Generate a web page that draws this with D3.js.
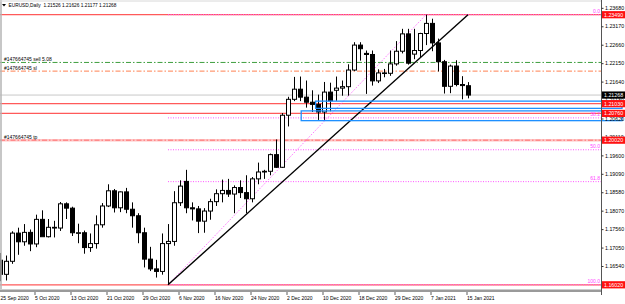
<!DOCTYPE html>
<html><head><meta charset="utf-8">
<script src="https://cdn.jsdelivr.net/npm/d3@7"></script>
<style>body{margin:0;background:#fff}svg{display:block}text{font-family:"Liberation Sans",Arial,sans-serif}</style>
</head><body><svg id="c" width="625" height="304"></svg>
<script>
const dates = ["2020-09-25","2020-09-28","2020-09-29","2020-09-30","2020-10-01","2020-10-02","2020-10-05","2020-10-06","2020-10-07","2020-10-08",
"2020-10-09","2020-10-12","2020-10-13","2020-10-14","2020-10-15","2020-10-16","2020-10-19","2020-10-20","2020-10-21","2020-10-22",
"2020-10-23","2020-10-26","2020-10-27","2020-10-28","2020-10-29","2020-10-30","2020-11-02","2020-11-03","2020-11-04","2020-11-05",
"2020-11-06","2020-11-09","2020-11-10","2020-11-11","2020-11-12","2020-11-13","2020-11-16","2020-11-17","2020-11-18","2020-11-19",
"2020-11-20","2020-11-23","2020-11-24","2020-11-25","2020-11-26","2020-11-27","2020-11-30","2020-12-01","2020-12-02","2020-12-03",
"2020-12-04","2020-12-07","2020-12-08","2020-12-09","2020-12-10","2020-12-11","2020-12-14","2020-12-15","2020-12-16","2020-12-17",
"2020-12-18","2020-12-21","2020-12-22","2020-12-23","2020-12-24","2020-12-28","2020-12-29","2020-12-30","2020-12-31","2021-01-04",
"2021-01-05","2021-01-06","2021-01-07","2021-01-08","2021-01-11","2021-01-12","2021-01-13","2021-01-14","2021-01-15"];
const open = [1.1670,1.1631,1.1667,1.1745,1.1721,1.1747,1.1715,1.1783,1.1735,1.1761,
1.1759,1.1826,1.1814,1.1746,1.1746,1.1705,1.1716,1.1768,1.1820,1.1862,
1.1815,1.1859,1.1811,1.1793,1.1746,1.1673,1.1646,1.1639,1.1716,1.1722,
1.1829,1.1888,1.1815,1.1812,1.1778,1.1806,1.1832,1.1854,1.1863,1.1853,
1.1871,1.1857,1.1840,1.1895,1.1914,1.1916,1.1962,1.1927,1.2071,1.2115,
1.2143,1.2121,1.2107,1.2101,1.2080,1.2135,1.2140,1.2146,1.2150,1.2196,
1.2265,1.2242,1.2239,1.2166,1.2188,1.2187,1.2213,1.2248,1.2296,1.2240,
1.2250,1.2297,1.2325,1.2271,1.2219,1.2151,1.2207,1.2156,1.21526];
const high = [1.1690,1.1683,1.1750,1.1760,1.1770,1.1755,1.1796,1.1808,1.1784,1.1779,
1.1831,1.1830,1.1818,1.1771,1.1752,1.1744,1.1794,1.1828,1.1880,1.1867,
1.1860,1.1870,1.1830,1.1800,1.1760,1.1707,1.1671,1.1744,1.1770,1.1861,
1.1891,1.1920,1.1830,1.1820,1.1814,1.1840,1.1866,1.1893,1.1895,1.1877,
1.1891,1.1905,1.1900,1.1940,1.1920,1.1965,1.2004,1.2077,1.2122,1.2177,
1.2178,1.2167,1.2140,1.2128,1.2163,1.2161,1.2178,1.2167,1.2212,1.2273,
1.2273,1.2250,1.2250,1.2198,1.2199,1.2250,1.2276,1.2310,1.2310,1.2310,
1.2299,1.2349,1.2338,1.2283,1.2224,1.2211,1.2223,1.2179,1.21626];
const low = [1.1612,1.1614,1.1660,1.1685,1.1710,1.1695,1.1706,1.1737,1.1733,1.1733,
1.1751,1.1784,1.1737,1.1717,1.1688,1.1693,1.1702,1.1760,1.1817,1.1802,
1.1803,1.1800,1.1760,1.1717,1.1650,1.1640,1.1622,1.1630,1.1602,1.1710,
1.1820,1.1800,1.1780,1.1745,1.1746,1.1782,1.1820,1.1830,1.1845,1.1800,
1.1842,1.1800,1.1830,1.1880,1.1895,1.1905,1.1925,1.1925,1.2040,1.2110,
1.2110,1.2092,1.2080,1.2058,1.2058,1.2082,1.2111,1.2125,1.2125,1.2193,
1.2222,1.2130,1.2153,1.2160,1.2176,1.2180,1.2208,1.2242,1.2211,1.2226,
1.2230,1.2265,1.2248,1.2192,1.2131,1.2132,1.2151,1.2115,1.21177];
const close = [1.1631,1.1667,1.1745,1.1721,1.1747,1.1715,1.1783,1.1735,1.1761,1.1759,
1.1826,1.1814,1.1746,1.1746,1.1705,1.1716,1.1768,1.1820,1.1862,1.1815,
1.1859,1.1811,1.1793,1.1746,1.1673,1.1646,1.1639,1.1716,1.1722,1.1829,
1.1875,1.1815,1.1812,1.1778,1.1806,1.1832,1.1854,1.1863,1.1853,1.1871,
1.1857,1.1840,1.1895,1.1914,1.1916,1.1962,1.1927,1.2071,1.2115,1.2143,
1.2121,1.2107,1.2101,1.2080,1.2135,1.2111,1.2146,1.2150,1.2196,1.2265,
1.2255,1.2239,1.2166,1.2188,1.2187,1.2213,1.2248,1.2296,1.2215,1.2250,
1.2297,1.2325,1.2271,1.2219,1.2151,1.2207,1.2156,1.2153,1.21268];
const priceTicks = [1.23680,1.23170,1.22660,1.22150,1.21640,1.21130,1.20620,1.20110,1.19600,1.19090,1.18580,1.18070,1.17560,1.17050,1.16540];
const titleText = "EURUSD,Daily  1.21526 1.21626 1.21177 1.21268";
const redLevels = [1.2349, 1.2103, 1.2076, 1.1602];
const currentPrice = 1.21268;
const fibLevels = [0, 38.2, 50.0, 61.8, 100.0];
const fibBars = [28, 71];
const fibPrices = [1.1602, 1.2349];
const trendBars = [28, 78];
const trendPrices = [1.1602, 1.2349];
const orderNames = ["#147664745 sell 5.08", "#147664745 sl", "#147664745 tp"];
const orderPrices = [1.2217, 1.2193, 1.2002];
const zoneStartBars = [52.6, 50.2];
const zoneTop = [1.2110, 1.2083];
const zoneBottom = [1.2090, 1.2056];

const svg = d3.select("#c");
const W = 625, H = 304, plotR = 601, plotB = 289;
const x = d3.scaleLinear().domain([0, dates.length - 1]).range([0, 468]);
const y = d3.scaleLinear().domain([1.15904, 1.23897]).range([plotB, 0]);
const parse = d3.timeParse("%Y-%m-%d"), fmt = d3.timeFormat("%-d %b %Y");
const pf = d3.format(".5f");

svg.append("rect").attr("width", W).attr("height", H).attr("fill", "#fff");
const plot = svg.append("g");
plot.append("clipPath").attr("id","pc").append("rect").attr("x",0).attr("y",0).attr("width",plotR).attr("height",plotB);
const g = plot.append("g").attr("clip-path","url(#pc)");

// current price line
g.append("line").attr("x1",0).attr("x2",plotR).attr("y1",y(currentPrice)).attr("y2",y(currentPrice)).attr("stroke","#c8c8c8").attr("stroke-width",1);

// order lines
const orderColors = ["#3f9f3f", "#ff8050", "#ff7070"];
orderPrices.forEach((p,i)=>{
  if(i===2){
    g.append("line").attr("x1",0).attr("x2",plotR).attr("y1",y(p)).attr("y2",y(p)).attr("stroke","#ffc4c4").attr("stroke-width",2.5);
  }
  g.append("line").attr("x1",0).attr("x2",plotR).attr("y1",y(p)).attr("y2",y(p))
   .attr("stroke",orderColors[i]).attr("stroke-width",1).attr("stroke-dasharray","5,2,1.5,2");
  g.append("text").attr("x",4).attr("y",y(p)-1.5).attr("font-size",5).attr("fill","#000").text(orderNames[i]);
});

// red horizontal lines
redLevels.forEach(p=>{
  g.append("line").attr("x1",0).attr("x2",plotR).attr("y1",y(p)).attr("y2",y(p)).attr("stroke","#ff5a5a").attr("stroke-width",1.2);
});

// fib levels
const fibRange = fibPrices[1]-fibPrices[0];
fibLevels.forEach(l=>{
  const p = fibPrices[1] - l/100*fibRange;
  g.append("line").attr("x1",x(fibBars[0])).attr("x2",plotR).attr("y1",y(p)).attr("y2",y(p))
   .attr("stroke","#ff55ff").attr("stroke-width",1).attr("stroke-dasharray","1,1.5");
  g.append("text").attr("x",plotR-1).attr("y",y(p)-1.5).attr("text-anchor","end").attr("font-size",5).attr("fill","#ff44ff").text(l.toFixed(1));
});

// fib diagonal
g.append("line").attr("x1",x(fibBars[0])).attr("y1",y(fibPrices[0])).attr("x2",x(fibBars[1])).attr("y2",y(fibPrices[1]))
 .attr("stroke","#ff55ff").attr("stroke-width",1).attr("stroke-dasharray","1,1.5");

// candles
const idx = d3.range(dates.length);
const bw = 4;
g.append("g").selectAll("line").data(idx).join("line")
 .attr("x1",i=>Math.round(x(i))+0.5).attr("x2",i=>Math.round(x(i))+0.5)
 .attr("y1",i=>y(high[i])).attr("y2",i=>y(low[i])).attr("stroke","#000").attr("stroke-width",1);
g.append("g").selectAll("rect").data(idx).join("rect")
 .attr("x",i=>Math.round(x(i))-bw/2+0.5).attr("width",bw)
 .attr("y",i=>y(Math.max(open[i],close[i])))
 .attr("height",i=>Math.max(0.6, Math.abs(y(open[i])-y(close[i]))))
 .attr("fill",i=>close[i]>=open[i]?"#fff":"#000").attr("stroke","#000").attr("stroke-width",1);

// trendline
g.append("line").attr("x1",x(trendBars[0])).attr("y1",y(trendPrices[0])).attr("x2",x(trendBars[1])).attr("y2",y(trendPrices[1]))
 .attr("stroke","#000").attr("stroke-width",1.4);

// zones (extend past axis)
zoneStartBars.forEach((b,i)=>{
  svg.append("rect").attr("x",x(b)).attr("y",y(zoneTop[i])).attr("width",622-x(b)).attr("height",y(zoneBottom[i])-y(zoneTop[i]))
   .attr("fill","none").attr("stroke","#1e90ff").attr("stroke-width",1.3);
});

// frame
svg.append("line").attr("x1",1).attr("x2",1).attr("y1",0).attr("y2",plotB).attr("stroke","#b4b4b4").attr("stroke-width",1.5);
svg.append("line").attr("x1",0).attr("x2",plotR).attr("y1",1).attr("y2",1).attr("stroke","#d8d8d8").attr("stroke-width",1);
svg.append("rect").attr("x",0).attr("y",plotB+0.5).attr("width",plotR).attr("height",2.5).attr("fill","#9a9a9a");
svg.append("line").attr("x1",plotR+0.5).attr("x2",plotR+0.5).attr("y1",0).attr("y2",plotB+6).attr("stroke","#555").attr("stroke-width",1);

// right axis
const ax = svg.append("g").attr("transform",`translate(${plotR+0.5},0)`)
 .call(d3.axisRight(y).tickValues(priceTicks).tickFormat(pf).tickSize(2).tickPadding(1.5));
ax.select(".domain").remove();
ax.selectAll("line").attr("stroke","#333");
ax.selectAll("text").attr("font-size",5.3).attr("fill","#000").attr("font-family","Liberation Sans, Arial, sans-serif");

// price labels on axis
function axisLabel(p, bg){
  const gg = svg.append("g");
  gg.append("rect").attr("x",plotR+1).attr("y",y(p)-3.6).attr("width",23).attr("height",7.2).attr("fill",bg);
  gg.append("text").attr("x",plotR+3).attr("y",y(p)).attr("dy","0.35em").attr("font-size",5.3).attr("fill","#fff").text(pf(p));
}
redLevels.forEach(p=>axisLabel(p,"#ff1010"));
axisLabel(orderPrices[2],"#ff1010");
axisLabel(currentPrice,"#000");

// x axis
const tickIdx = idx.filter(i=>i%6===0);
const xg = svg.append("g");
xg.selectAll("line").data(tickIdx).join("line")
 .attr("x1",i=>x(i)-1).attr("x2",i=>x(i)-1).attr("y1",plotB+3).attr("y2",plotB+6).attr("stroke","#333").attr("stroke-width",0.8);
xg.selectAll("text").data(tickIdx).join("text")
 .attr("x",i=>Math.max(0.5,x(i)-1)).attr("y",plotB+11).attr("font-size",5).attr("fill","#000")
 .text(i=>fmt(parse(dates[i])));

// title
svg.append("path").attr("d","M2,4 L6,4 L4,6.5 Z").attr("fill","#000");
svg.append("text").attr("x",8.5).attr("y",7).attr("font-size",4.8).attr("fill","#000").attr("xml:space","preserve").style("white-space","pre").text(titleText);
</script></body></html>
